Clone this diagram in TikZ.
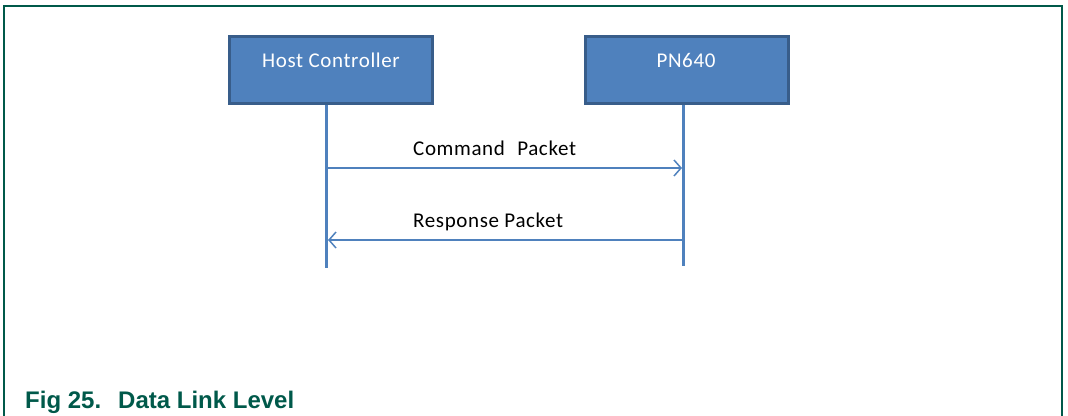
\documentclass[tikz,border=0pt]{standalone}
\usepackage{fontspec}
\setmainfont{Carlito}[LetterSpace=3]
\newfontfamily\capfont{Liberation Sans}
\usetikzlibrary{arrows.meta}
\definecolor{boxfill}{HTML}{4F81BD}
\definecolor{boxline}{HTML}{385D8A}
\definecolor{nxpgreen}{HTML}{00594A}
\tikzset{
  x=1pt, y=-1pt,
  actor/.style={draw=boxline, line width=3pt, fill=boxfill, minimum width=203pt, minimum height=67pt, anchor=north west, inner sep=0pt},
  actorlabel/.style={text=white, font=\fontsize{21}{24}\selectfont, anchor=base, inner sep=0pt},
  life/.style={draw=boxfill, line width=3pt},
  msg/.style={draw=boxfill, line width=1.8pt, -{Straight Barb[length=7pt, width=16pt, line width=1.5pt]}},
  msglabel/.style={font=\fontsize{21}{24}\selectfont, text=black, anchor=base west, inner sep=0pt},
  frame/.style={draw=nxpgreen, line width=2pt},
}
\begin{document}
\begin{tikzpicture}
\useasboundingbox (0,0) rectangle (1068,415);
\draw[frame] (4,416) -- (4,6) -- (1062,6) -- (1062,416);
\node[actor] (host) at (228,35) {};
\node[actorlabel] (hostt) at (331,67) {Host Controller};
\node[actor] (pn) at (584,35) {};
\node[actorlabel] (pnt) at (686,67) {PN640};
\coordinate (hostend) at (326,268);
\coordinate (pnend) at (683,266);
\draw[life] (host.south -| hostend) -- (hostend);
\draw[life] (pn.south -| pnend) -- (pnend);
\coordinate (c1) at (326,168);
\coordinate (c2) at (682,168);
\coordinate (r1) at (683,240);
\coordinate (r2) at (328,240);
\draw[msg] (c1) -- (c2);
\draw[msg] (r1) -- (r2);
\node[msglabel] (cl) at (413,155) {Command\,\, Packet};
\node[msglabel] (rl) at (413,227) {Response Packet};
\node[font=\capfont\bfseries\fontsize{24}{28}\selectfont, text=nxpgreen, anchor=base west, inner sep=0pt] (cap) at (25,408) {Fig 25.\hspace{17pt}Data Link Level};
\end{tikzpicture}
\end{document}
